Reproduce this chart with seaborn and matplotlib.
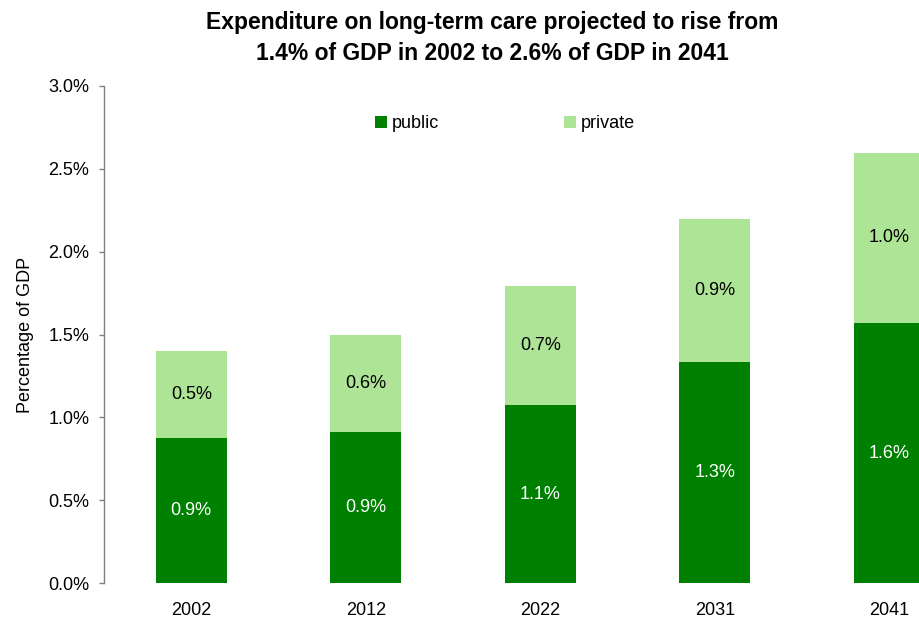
import matplotlib
matplotlib.use("Agg")
import matplotlib.pyplot as plt
import seaborn as sns
import pandas as pd
from matplotlib.patches import Patch
from matplotlib.ticker import FuncFormatter

years = ["2002", "2012", "2022", "2031", "2041"]
public = [0.875, 0.911, 1.074, 1.336, 1.569]
private = [0.525, 0.586, 0.719, 0.861, 1.027]
totals = [a + b for a, b in zip(public, private)]

sns.set_theme(style="white")
plt.rcParams["font.family"] = ["Liberation Sans", "DejaVu Sans"]
plt.rcParams["text.color"] = "black"
plt.rcParams["axes.labelcolor"] = "black"
plt.rcParams["xtick.color"] = "black"
plt.rcParams["ytick.color"] = "black"

DARK = "#008000"
LIGHT = "#ADE496"
FS = 13

df = pd.DataFrame({"year": years, "public": public, "private": private, "total": totals})

fig = plt.figure(figsize=(9.2, 6.18), dpi=100)
W, H = 920, 618
left_px, right_px = 104, 976.6
top_px, bot_px = 86, 583
ax = fig.add_axes([left_px / W, (H - bot_px) / H, (right_px - left_px) / W, (bot_px - top_px) / H])

sns.barplot(data=df, x="year", y="total", color=LIGHT, width=0.406, ax=ax,
            saturation=1, linewidth=0, edgecolor="none")
sns.barplot(data=df, x="year", y="public", color=DARK, width=0.406, ax=ax,
            saturation=1, linewidth=0, edgecolor="none")

ax.set_xlim(-0.5, 4.5)
ax.set_ylim(0, 3.0)
ax.set_yticks([0, 0.5, 1.0, 1.5, 2.0, 2.5, 3.0])
ax.yaxis.set_major_formatter(FuncFormatter(lambda v, p: f"{v:.1f}%"))
ax.tick_params(axis="y", which="both", left=True, length=3.6, width=1, color="#808080",
               labelsize=FS, pad=7, labelcolor="black")
ax.tick_params(axis="x", bottom=False, labelsize=FS, pad=8, labelcolor="black")
for s in ["top", "right", "bottom"]:
    ax.spines[s].set_visible(False)
ax.spines["left"].set_color("#808080")
ax.spines["left"].set_linewidth(1)
ax.set_xlabel("")
ax.set_ylabel("Percentage of GDP", fontsize=FS, color="black", labelpad=10)

for i, (p, q) in enumerate(zip(public, private)):
    ax.text(i, p / 2, f"{p:.1f}%", ha="center", va="center", color="white", fontsize=FS)
    ax.text(i, p + q / 2, f"{q:.1f}%", ha="center", va="center", color="black", fontsize=FS)

handles = [Patch(facecolor=DARK, edgecolor="none", label="public"),
           Patch(facecolor=LIGHT, edgecolor="none", label="private")]
fig.legend(handles=handles, loc="center", bbox_to_anchor=(505 / W, (H - 124) / H), ncol=2,
           frameon=False, fontsize=FS, handlelength=0.65, handleheight=0.65,
           handletextpad=0.3, columnspacing=6.9)

fig.text(492 / W, (H - 23) / H, "Expenditure on long-term care projected to rise from",
         ha="center", va="center", fontsize=16.5, fontweight="bold", color="black")
fig.text(492 / W, (H - 53) / H, "1.4% of GDP in 2002 to 2.6% of GDP in 2041",
         ha="center", va="center", fontsize=16.5, fontweight="bold", color="black")

fig.savefig("out.png", dpi=100)
